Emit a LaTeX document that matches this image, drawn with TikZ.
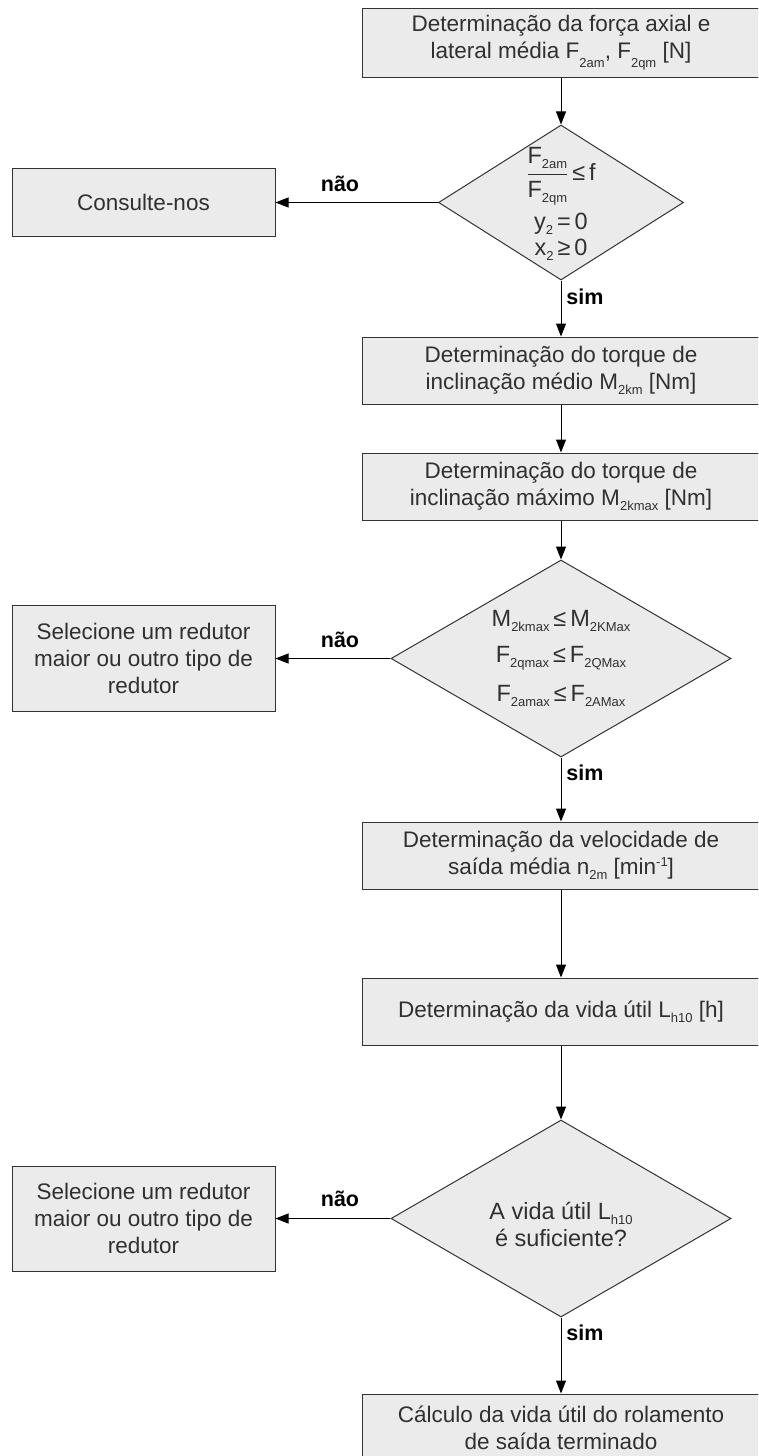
\documentclass[tikz,border=0pt]{standalone}
\usepackage{fontspec}
\setmainfont{Liberation Sans}
\usetikzlibrary{shapes.geometric,arrows.meta}
\definecolor{boxfill}{HTML}{EBEBEB}
\definecolor{boxline}{HTML}{333333}
\definecolor{txt}{HTML}{303030}
\newcommand\dn[2][5pt]{\raisebox{-#1}{\fontsize{13}{13}\selectfont #2}}
\newcommand\up[1]{\raisebox{8pt}{\fontsize{13}{13}\selectfont #1}}
\begin{document}
\begin{tikzpicture}[x=1pt,y=-1pt,
  every node/.style={text=txt},
  procbox/.style={draw=boxline, fill=boxfill, line width=1pt, minimum width=398pt, minimum height=67pt, inner sep=0pt, align=center, font=\fontsize{22.5}{27}\selectfont},
  sidebox/.style={procbox, minimum width=263pt},
  decision/.style={diamond, draw=boxline, fill=boxfill, line width=1pt, inner sep=0pt},
  maintext/.style={font=\fontsize{23.5}{27}\selectfont, align=center, inner sep=0pt},
  flow/.style={draw=black, line width=1pt, -{Triangle[width=10pt,length=13pt]}},
  yesno/.style={font=\fontsize{21.5}{21.5}\selectfont\bfseries, text=black, inner sep=0pt}
]
\useasboundingbox (0,0) rectangle (758,1456);
\clip (0,0) rectangle (758,1456);

% main column
\node[procbox, minimum height=69pt] (b1) at (561,42.5) {Determinação da força axial e\\lateral média F\dn[9pt]{2am}, F\dn[9pt]{2qm} [N]};
\node[decision, minimum width=245pt, minimum height=155pt] (d1) at (561,202.5) {};
\node[maintext] (d1a) at (561,176) {$\displaystyle\frac{\hbox{F\dn{2am}}}{\hbox{F\dn{2qm}}}$\,≤\,f};
\node[maintext] (d1b) at (561,224) {y\dn{2}\,=\,0};
\node[maintext] (d1c) at (561,250) {x\dn{2}\,≥\,0};
\node[sidebox, minimum height=68pt] (c1) at (143.5,202.5) {Consulte-nos};

\node[procbox] (b2) at (561,370.5) {Determinação do torque de\\inclinação médio M\dn{2km} [Nm]};
\node[procbox] (b3) at (561,486.5) {Determinação do torque de\\inclinação máximo M\dn{2kmax} [Nm]};

\node[decision, minimum width=340pt, minimum height=197pt] (d2) at (561,658.5) {};
\node[maintext] (d2a) at (561,621) {M\dn{2kmax}\,≤\,M\dn{2KMax}};
\node[maintext] (d2b) at (561,658) {F\dn{2qmax}\,≤\,F\dn{2QMax}};
\node[maintext] (d2c) at (561,696) {F\dn{2amax}\,≤\,F\dn{2AMax}};
\node[sidebox, minimum height=106pt] (L2) at (143.5,658.5) {Selecione um redutor\\maior ou outro tipo de\\redutor};

\node[procbox] (b4) at (561,855.5) {Determinação da velocidade de\\saída média n\dn{2m} [min\up{-1}]};
\node[procbox] (b5) at (561,1011.5) {Determinação da vida útil L\dn{h10} [h]};

\node[decision, minimum width=340pt, minimum height=197pt] (d3) at (561,1218.5) {};
\node[maintext] (d3a) at (561,1224) {A vida útil L\dn{h10}\\é suficiente?};
\node[sidebox, minimum height=105pt] (L3) at (143.5,1218.5) {Selecione um redutor\\maior ou outro tipo de\\redutor};

\node[procbox] (b6) at (561,1427.5) {Cálculo da vida útil do rolamento\\de saída terminado};

% connectors
\draw[flow] (b1) -- (d1);
\draw[flow] (d1) -- (c1);
\draw[flow] (d1) -- (b2);
\draw[flow] (b2) -- (b3);
\draw[flow] (b3) -- (d2);
\draw[flow] (d2) -- (L2);
\draw[flow] (d2) -- (b4);
\draw[flow] (b4) -- (b5);
\draw[flow] (b5) -- (d3);
\draw[flow] (d3) -- (L3);
\draw[flow] (d3) -- (b6);

% labels
\node[yesno] (n1) at (340,184) {não};
\node[yesno] (n2) at (340,640) {não};
\node[yesno] (n3) at (340,1199) {não};
\node[yesno] (s1) at (585,297) {sim};
\node[yesno] (s2) at (585,773) {sim};
\node[yesno] (s3) at (585,1333) {sim};
\end{tikzpicture}
\end{document}
